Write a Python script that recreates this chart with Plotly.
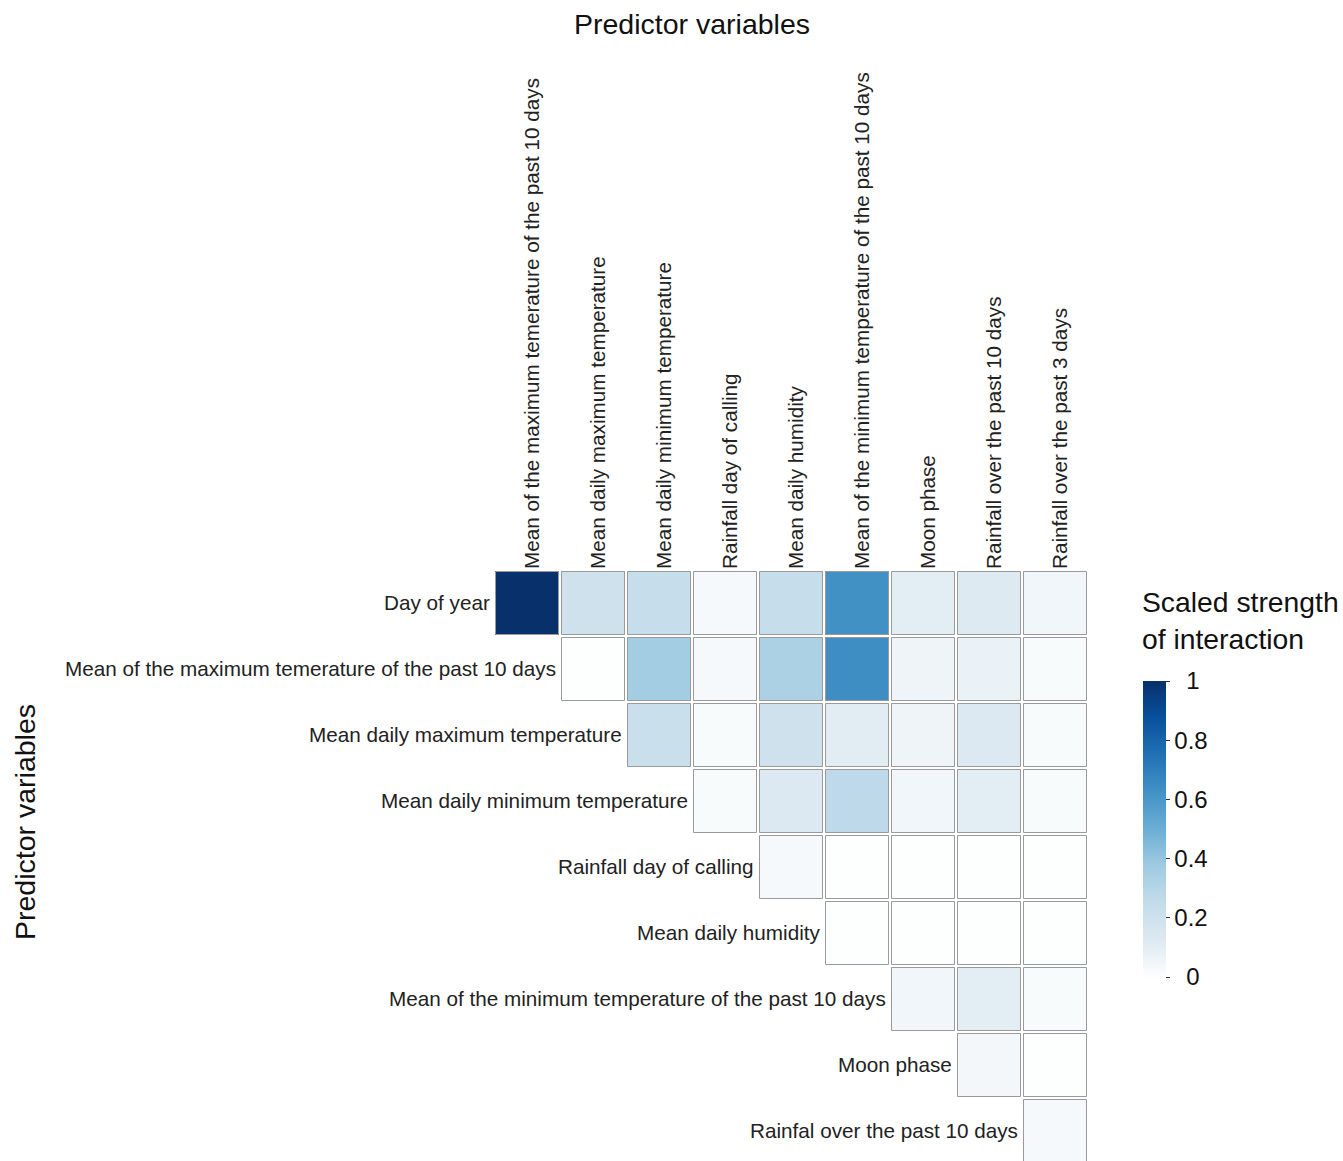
import plotly.graph_objects as go

# Row and column predictors of the pairwise interaction matrix
row_labels = [
    "Day of year",
    "Mean of the maximum temerature of the past 10 days",
    "Mean daily maximum temperature",
    "Mean daily minimum temperature",
    "Rainfall day of calling",
    "Mean daily humidity",
    "Mean of the minimum temperature of the past 10 days",
    "Moon phase",
    "Rainfal over the past 10 days",
]
col_labels = [
    "Mean of the maximum temerature of the past 10 days",
    "Mean daily maximum temperature",
    "Mean daily minimum temperature",
    "Rainfall day of calling",
    "Mean daily humidity",
    "Mean of the minimum temperature of the past 10 days",
    "Moon phase",
    "Rainfall over the past 10 days",
    "Rainfall over the past 3 days",
]

# Scaled interaction strength, one list per row (row i starts at column i)
day_of_year = [1.00, 0.20, 0.24, 0.03, 0.24, 0.63, 0.10, 0.12, 0.05]
max_temp_10d = [0.00, 0.36, 0.03, 0.33, 0.64, 0.06, 0.07, 0.02]
daily_max_temp = [0.22, 0.02, 0.20, 0.11, 0.06, 0.13, 0.02]
daily_min_temp = [0.02, 0.13, 0.27, 0.05, 0.10, 0.02]
rain_day = [0.03, 0.00, 0.00, 0.00, 0.00]
humidity = [0.00, 0.00, 0.00, 0.00]
min_temp_10d = [0.05, 0.10, 0.02]
moon_phase = [0.04, 0.00]
rain_10d = [0.03]

rows = [day_of_year, max_temp_10d, daily_max_temp, daily_min_temp,
        rain_day, humidity, min_temp_10d, moon_phase, rain_10d]

n = len(col_labels)
z = []
for i, vals in enumerate(rows):
    z.append([None] * i + vals)

blues = [
    [0.0, "#fdfefe"], [0.125, "#dde9f2"], [0.25, "#c4dcea"],
    [0.375, "#9fcbe2"], [0.5, "#6baed6"], [0.625, "#4292c6"],
    [0.75, "#2171b5"], [0.875, "#08519c"], [1.0, "#08306b"],
]

FONT = "Liberation Sans, Arial"
W, H = 1343, 1161
ML, MR, MT, MB = 494, 255, 570, 0
plot_w = W - ML - MR
plot_h = H - MT - MB
cell_px = plot_w / n
y_bottom = -0.5 + plot_h / cell_px


def px_x(px):
    return (px - ML) / plot_w


def px_y(py):
    return (H - MB - py) / plot_h


fig = go.Figure()
fig.add_trace(go.Heatmap(
    z=z,
    x=list(range(n)),
    y=list(range(len(rows))),
    zmin=0, zmax=1,
    colorscale=blues,
    xgap=2, ygap=2,
    hoverongaps=False,
    colorbar=dict(
        thickness=23,
        lenmode="pixels", len=296,
        xpad=0, ypad=0,
        x=px_x(1143), xanchor="left",
        y=px_y(829), yanchor="middle",
        tickvals=[0, 0.2, 0.4, 0.6, 0.8, 1],
        ticktext=["\u20020", "0.2", "0.4", "0.6", "0.8", "\u20021"],
        ticks="outside", ticklen=4, tickcolor="#333333",
        tickfont=dict(size=24, color="#111111", family=FONT),
        outlinewidth=0,
        title=dict(text=""),
    ),
))

# Cell outlines
d = 1.5 / cell_px
shapes = []
for i, r in enumerate(z):
    for j, v in enumerate(r):
        if v is None:
            continue
        shapes.append(dict(
            type="rect", xref="x", yref="y",
            x0=j - 0.5 + d, x1=j + 0.5 - d,
            y0=i - 0.5 + d, y1=i + 0.5 - d,
            line=dict(color="#9a9a9a", width=1),
            fillcolor="rgba(0,0,0,0)", layer="above",
        ))

# Row labels sit just left of each row's first cell
annotations = []
for i, lab in enumerate(row_labels):
    annotations.append(dict(
        x=i - 0.5, y=i, xref="x", yref="y",
        text=lab, showarrow=False, xanchor="right", yanchor="middle",
        xshift=-2, yshift=1,
        font=dict(size=20.7, color="#222222", family=FONT),
    ))

annotations += [
    dict(x=px_x(692), y=px_y(24), xref="paper", yref="paper",
         text="Predictor variables", showarrow=False,
         xanchor="center", yanchor="middle",
         font=dict(size=28.5, color="#111111", family=FONT)),
    dict(x=px_x(25), y=px_y(822), xref="paper", yref="paper",
         text="Predictor variables", showarrow=False, textangle=-90,
         xanchor="center", yanchor="middle",
         font=dict(size=28.5, color="#111111", family=FONT)),
    dict(x=px_x(1140), y=px_y(620), xref="paper", yref="paper",
         text="Scaled strength<br>of interaction", showarrow=False,
         xanchor="left", yanchor="middle", align="left",
         font=dict(size=28.3, color="#111111", family=FONT)),
]

fig.update_layout(
    width=W, height=H,
    margin=dict(l=ML, r=MR, t=MT, b=MB, pad=0),
    paper_bgcolor="white", plot_bgcolor="white",
    shapes=shapes,
    annotations=annotations,
    xaxis=dict(
        side="top", range=[-0.5, n - 0.5],
        tickmode="array", tickvals=list(range(n)), ticktext=col_labels,
        tickangle=-90, showgrid=False, zeroline=False, showline=False,
        ticks="", ticklabelshift=5,
        tickfont=dict(size=20.7, color="#222222", family=FONT),
    ),
    yaxis=dict(
        range=[y_bottom, -0.5], showticklabels=False,
        showgrid=False, zeroline=False, showline=False, ticks="",
    ),
    font=dict(family=FONT),
)

fig.write_html("out.html")
